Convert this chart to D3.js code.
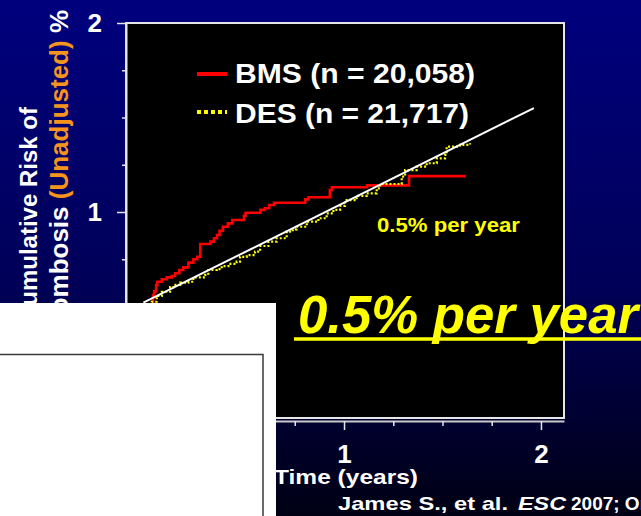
<!DOCTYPE html>
<html><head><meta charset="utf-8">
<script src="https://cdn.jsdelivr.net/npm/d3@7/dist/d3.min.js"></script>
<style>body{margin:0;background:#000040;} svg{display:block;}</style>
</head><body>
<svg id="c" width="641" height="516"></svg>
<script>
// ---- data (time in years, cumulative risk in %) ----
const bmsSteps = [
  [0.020,0.500],[0.030,0.560],[0.036,0.580],[0.046,0.614],[0.052,0.631],[0.075,0.644],
  [0.100,0.654],[0.125,0.661],[0.142,0.676],[0.164,0.693],[0.184,0.707],[0.210,0.732],
  [0.235,0.750],[0.255,0.763],[0.270,0.831],[0.322,0.843],[0.340,0.861],[0.355,0.878],
  [0.368,0.901],[0.385,0.922],[0.410,0.940],[0.433,0.958],[0.492,0.980],[0.500,0.996],
  [0.576,1.011],[0.598,1.020],[0.620,1.037],[0.645,1.049],[0.803,1.067],[0.820,1.078],
  [0.928,1.116],[0.938,1.131],[1.117,1.141],[1.330,1.190],[1.618,1.190]
];
const desSteps = [
  [0.020,0.505],[0.024,0.525],[0.049,0.556],[0.075,0.578],[0.117,0.602],[0.134,0.614],
  [0.168,0.626],[0.210,0.631],[0.235,0.654],[0.294,0.667],[0.311,0.693],[0.354,0.698],
  [0.379,0.714],[0.413,0.725],[0.455,0.737],[0.472,0.763],[0.506,0.772],[0.548,0.790],
  [0.574,0.820],[0.616,0.843],[0.658,0.861],[0.709,0.896],[0.740,0.908],[0.760,0.922],
  [0.811,0.949],[0.870,0.967],[0.912,0.993],[0.946,1.011],[0.980,1.032],[1.005,1.063],
  [1.064,1.085],[1.115,1.099],[1.166,1.125],[1.183,1.148],[1.293,1.187],[1.310,1.222],
  [1.369,1.240],[1.420,1.258],[1.471,1.284],[1.513,1.302],[1.521,1.346],[1.589,1.355],
  [1.640,1.364]
];
const trendLine = [[-0.019,0.520],[1.964,1.550]];
const xTicksMajor = [0,1,2];
const xTicksMinor = [0.25,0.5,0.75,1.25,1.5,1.75];
const yTicksMajor = [0,1,2];
const yTicksMinor = [0.25,0.5,0.75,1.25,1.5,1.75];
const legendLabels = ["BMS (n = 20,058)","DES (n = 21,717)"];
const annotationSmall = "0.5% per year";
const annotationBig = "0.5% per year";
const xTitle = "Time (years)";
const yTitle1 = "Cumulative Risk of";
const yTitle2 = ["Thrombosis ","(Unadjusted)"," %"];
const citationParts = ["James S., et al.","ESC","2007; Oral Presentation"];

// ---- drawing ----
const svg = d3.select("#c");
const FONT = "Liberation Sans, Arial, sans-serif";
const x = d3.scaleLinear().domain([-0.107,2.117]).range([126,564]);
const y = d3.scaleLinear().domain([-0.09,2]).range([418,23]);

const defs = svg.append("defs");
const grad = defs.append("linearGradient").attr("id","bg").attr("x1",0).attr("y1",0).attr("x2",0).attr("y2",1);
grad.append("stop").attr("offset","0%").attr("stop-color","#00007e");
grad.append("stop").attr("offset","55%").attr("stop-color","#000058");
grad.append("stop").attr("offset","100%").attr("stop-color","#000014");
svg.append("rect").attr("width",641).attr("height",516).attr("fill","url(#bg)");

// plot area
svg.append("rect").attr("x",x.range()[0]).attr("y",y.range()[1])
  .attr("width",x.range()[1]-x.range()[0]).attr("height",y.range()[0]-y.range()[1])
  .attr("fill","#000").attr("stroke","#e6e6e6").attr("stroke-width",2);

const line = d3.line().x(d=>x(d[0])).y(d=>y(d[1]));
const step = d3.line().x(d=>x(d[0])).y(d=>y(d[1])).curve(d3.curveStepAfter);

svg.append("path").datum(bmsSteps).attr("d",step).attr("fill","none")
  .attr("stroke","#ff0000").attr("stroke-width",2.6);
svg.append("path").datum(desSteps).attr("d",step).attr("fill","none")
  .attr("stroke","#ffff00").attr("stroke-width",2.2).attr("stroke-dasharray","2,2");
svg.append("path").datum(trendLine).attr("d",line).attr("fill","none")
  .attr("stroke","#ffffff").attr("stroke-width",2);

// axes
function styleAxis(g){
  g.selectAll("path.domain").attr("stroke","#e6e6e6").attr("stroke-width",2);
  g.selectAll(".tick line").attr("stroke","#e6e6e6").attr("stroke-width",1.5);
  g.selectAll(".tick text").attr("fill","#fff").attr("font-family",FONT)
    .attr("font-weight","bold").attr("font-size",26);
}
const yAx = svg.append("g").attr("transform","translate(126,0)")
  .call(d3.axisLeft(y).tickValues(yTicksMajor).tickSize(9).tickSizeOuter(0).tickPadding(15).tickFormat(d3.format("d")));
styleAxis(yAx);
const yAxm = svg.append("g").attr("transform","translate(126,0)")
  .call(d3.axisLeft(y).tickValues(yTicksMinor).tickSize(4).tickSizeOuter(0).tickFormat(""));
styleAxis(yAxm); yAxm.select("path.domain").remove();

const xAx = svg.append("g").attr("transform","translate(0,421)")
  .call(d3.axisBottom(x).tickValues(xTicksMajor).tickSize(9).tickSizeOuter(0).tickPadding(15).tickFormat(d3.format("d")));
styleAxis(xAx); xAx.select("path.domain").attr("stroke","#c8c8c8");
const xAxm = svg.append("g").attr("transform","translate(0,421)")
  .call(d3.axisBottom(x).tickValues(xTicksMinor).tickSize(5).tickSizeOuter(0).tickFormat(""));
styleAxis(xAxm); xAxm.select("path.domain").remove();

// legend
svg.append("line").attr("x1",197).attr("x2",227).attr("y1",74).attr("y2",74)
  .attr("stroke","#ff0000").attr("stroke-width",4);
svg.append("line").attr("x1",197).attr("x2",227).attr("y1",112).attr("y2",112)
  .attr("stroke","#ffff00").attr("stroke-width",4).attr("stroke-dasharray","4,3");
svg.append("text").attr("x",235).attr("y",83).text(legendLabels[0])
  .attr("fill","#fff").attr("font-family",FONT).attr("font-weight","bold").attr("font-size",28)
  .attr("textLength",240).attr("lengthAdjust","spacingAndGlyphs");
svg.append("text").attr("x",235).attr("y",123).text(legendLabels[1])
  .attr("fill","#fff").attr("font-family",FONT).attr("font-weight","bold").attr("font-size",28)
  .attr("textLength",234).attr("lengthAdjust","spacingAndGlyphs");

// small annotation
svg.append("text").attr("x",377).attr("y",232).text(annotationSmall)
  .attr("fill","#ffff00").attr("font-family",FONT).attr("font-weight","bold").attr("font-size",21)
  .attr("textLength",143).attr("lengthAdjust","spacingAndGlyphs");

// y title
svg.append("text").attr("transform","translate(37,107) rotate(-90)").attr("text-anchor","end")
  .attr("fill","#fff").attr("font-family",FONT).attr("font-weight","bold").attr("font-size",24)
  .text(yTitle1);
const yt2 = svg.append("text").attr("transform","translate(68,10) rotate(-90)").attr("text-anchor","end")
  .attr("fill","#fff").attr("font-family",FONT).attr("font-weight","bold").attr("font-size",26);
yt2.append("tspan").text(yTitle2[0]);
yt2.append("tspan").attr("fill","#f7941d").text(yTitle2[1]);
yt2.append("tspan").text(yTitle2[2]);

// x title
svg.append("text").attr("x",274).attr("y",484).text(xTitle)
  .attr("fill","#fff").attr("font-family",FONT).attr("font-weight","bold").attr("font-size",21)
  .attr("textLength",144).attr("lengthAdjust","spacingAndGlyphs");

// citation
const citG = svg.append("g").attr("fill","#fff").attr("font-family",FONT)
  .attr("font-weight","bold").attr("font-size",19);
citG.append("text").attr("x",338).attr("y",510).text(citationParts[0])
  .attr("textLength",170).attr("lengthAdjust","spacingAndGlyphs");
citG.append("text").attr("x",518).attr("y",510).attr("font-style","italic").text(citationParts[1])
  .attr("textLength",48).attr("lengthAdjust","spacingAndGlyphs");
citG.append("text").attr("x",571).attr("y",510).text(citationParts[2]);

// overlay white box
svg.append("rect").attr("x",0).attr("y",303).attr("width",276).attr("height",213).attr("fill","#fff");
svg.append("rect").attr("x",-2).attr("y",354.5).attr("width",265).attr("height",200)
  .attr("fill","none").attr("stroke","#3a3a3a").attr("stroke-width",1.5);

// big annotation
svg.append("text").attr("x",298).attr("y",333).text(annotationBig)
  .attr("fill","#ffff00").attr("font-family",FONT).attr("font-weight","bold")
  .attr("font-style","italic").attr("font-size",53)
  .attr("textLength",340).attr("lengthAdjust","spacingAndGlyphs");
svg.append("line").attr("x1",294).attr("x2",641).attr("y1",339).attr("y2",339)
  .attr("stroke","#ffff00").attr("stroke-width",3.5);
</script>
</body></html>
